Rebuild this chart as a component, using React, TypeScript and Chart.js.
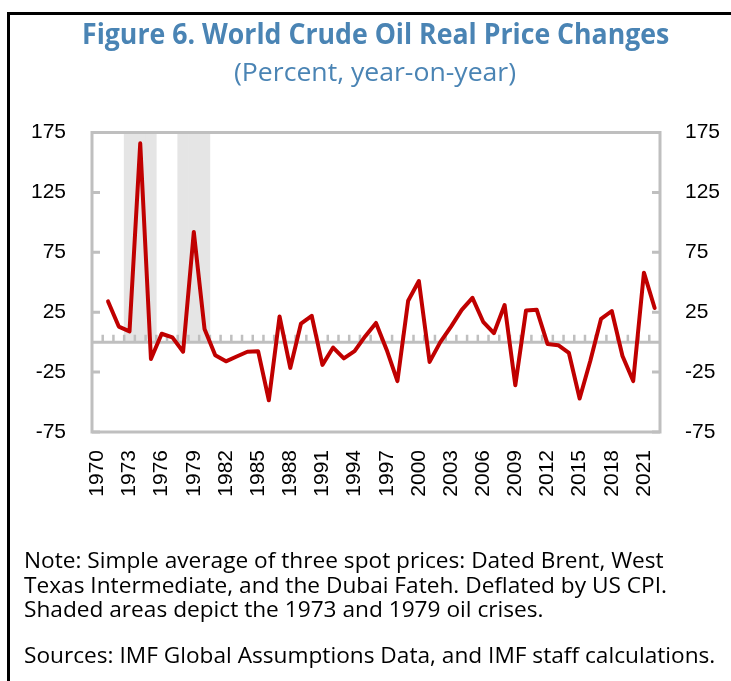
import React, { useEffect, useLayoutEffect, useRef, useState } from 'react';
import { Chart, registerables } from 'chart.js';

Chart.register(...registerables);

// ---------- data ----------
const years: string[] = [
  '1970', '1971', '1972', '1973', '1974', '1975', '1976', '1977', '1978', '1979',
  '1980', '1981', '1982', '1983', '1984', '1985', '1986', '1987', '1988', '1989',
  '1990', '1991', '1992', '1993', '1994', '1995', '1996', '1997', '1998', '1999',
  '2000', '2001', '2002', '2003', '2004', '2005', '2006', '2007', '2008', '2009',
  '2010', '2011', '2012', '2013', '2014', '2015', '2016', '2017', '2018', '2019',
  '2020', '2021', '2022',
];

const priceChange: (number | null)[] = [
  null, 34, 13, 9, 166, -14, 7, 4, -8, 92,
  11, -11, -16, -12, -8, -7.5, -48.5, 21.5, -21.5, 15.5,
  22, -19, -4.5, -13.5, -7.5, 5, 16, -6.5, -32.5, 34.5,
  51, -16.5, 0, 13, 27, 37, 17, 7.5, 31, -36,
  26.5, 27, -1.5, -2.5, -9, -47, -15.5, 19.5, 26, -11.5,
  -32.5, 58, 28.5,
];

const crisisYears: string[] = ['1973', '1974', '1975', '1978', '1979', '1980'];
const shadeHeight = 175;

const yTickValues: number[] = [-75, -25, 25, 75, 125, 175];
const labelEvery = 3;

const titleText = 'Figure 6. World Crude Oil Real Price Changes';
const subtitleText = '(Percent, year-on-year)';
const noteLines: string[] = [
  'Note: Simple average of three spot prices: Dated Brent, West',
  'Texas Intermediate, and the Dubai Fateh. Deflated by US CPI.',
  'Shaded areas depict the 1973 and 1979 oil crises.',
];
const sourceText = 'Sources: IMF Global Assumptions Data, and IMF staff calculations.';

// ---------- styles ----------
const W = 731;
const H = 681;
const PLOT_LEFT = 92;
const PLOT_RIGHT = 660;
const PLOT_TOP = 132.5;
const PLOT_BOTTOM = 432;
const AXIS_GRAY = '#bfbfbf';
const LINE_RED = '#c00000';
const SHADE = '#e5e5e5';
const TITLE_BLUE = '#4a84b4';
const TICK_FONT = { family: "'Liberation Sans', Arial, sans-serif", size: 21 };
const TEXT_FONT = "'Open Sans', 'Noto Sans', sans-serif";

const decorPlugin = {
  id: 'decor',
  afterDatasetDraw(chart: any, args: any) {
    if (args.index !== 1) return;
    const { ctx, chartArea: a, scales } = chart;
    const x = scales.x;
    const y = scales.y;
    ctx.save();
    ctx.strokeStyle = AXIS_GRAY;
    ctx.lineCap = 'butt';
    const y0 = y.getPixelForValue(0);
    // zero line
    ctx.lineWidth = 3;
    ctx.beginPath();
    ctx.moveTo(a.left, y0);
    ctx.lineTo(a.right, y0);
    ctx.stroke();
    // category ticks on zero line
    ctx.lineWidth = 2.5;
    ctx.beginPath();
    for (let i = 1; i < years.length; i++) {
      const xp = (x.getPixelForValue(i - 1) + x.getPixelForValue(i)) / 2;
      ctx.moveTo(xp, y0);
      ctx.lineTo(xp, y0 - 7.5);
    }
    ctx.stroke();
    // inward y ticks
    ctx.lineWidth = 3;
    ctx.beginPath();
    for (const v of yTickValues) {
      const yp = y.getPixelForValue(v);
      ctx.moveTo(a.left, yp);
      ctx.lineTo(a.left + 8, yp);
      ctx.moveTo(a.right, yp);
      ctx.lineTo(a.right - 8, yp);
    }
    ctx.stroke();
    // plot border
    ctx.strokeRect(a.left, a.top, a.right - a.left, a.bottom - a.top);
    ctx.restore();
  },
};

function ChartCanvas() {
  const ref = useRef<HTMLCanvasElement>(null);
  useEffect(() => {
    if (!ref.current) return;
    const shadeData = years.map((yr) => (crisisYears.includes(yr) ? shadeHeight : null));
    const yScale = (position: 'left' | 'right', padding: number, width: number) => ({
      position,
      min: yTickValues[0],
      max: yTickValues[yTickValues.length - 1],
      grid: { display: false, drawTicks: false },
      border: { display: false },
      afterBuildTicks: (s: any) => {
        s.ticks = yTickValues.map((v) => ({ value: v }));
      },
      afterFit: (s: any) => {
        s.width = width;
      },
      ticks: {
        color: '#000',
        font: TICK_FONT,
        padding,
        callback: (v: any) => String(v),
      },
    });
    const chart = new Chart(ref.current, {
      type: 'line',
      data: {
        labels: years,
        datasets: [
          {
            type: 'line',
            data: priceChange,
            borderColor: LINE_RED,
            borderWidth: 4,
            pointRadius: 0,
            tension: 0,
            borderJoinStyle: 'round',
            borderCapStyle: 'round',
            spanGaps: false,
            yAxisID: 'y',
          } as any,
          {
            type: 'bar',
            data: shadeData,
            backgroundColor: SHADE,
            borderWidth: 0,
            barPercentage: 1,
            categoryPercentage: 1,
            yAxisID: 'y',
          } as any,
        ],
      },
      options: {
        animation: false,
        responsive: true,
        maintainAspectRatio: false,
        events: [],
        layout: { padding: { left: 0, right: 0, top: PLOT_TOP, bottom: 0 } },
        plugins: {
          legend: { display: false },
          tooltip: { enabled: false },
          title: { display: false },
        },
        scales: {
          x: {
            type: 'category',
            offset: true,
            grid: { display: false, drawTicks: false },
            border: { display: false },
            afterFit: (s: any) => {
              s.height = H - PLOT_BOTTOM;
            },
            ticks: {
              autoSkip: false,
              minRotation: 90,
              maxRotation: 90,
              padding: 18,
              color: '#000',
              font: TICK_FONT,
              callback: (_v: any, i: number) => (i % labelEvery === 0 ? years[i] : ''),
            },
          },
          y: yScale('left', 26, PLOT_LEFT) as any,
          y2: yScale('right', 25, W - PLOT_RIGHT) as any,
        },
      },
      plugins: [decorPlugin],
    });
    return () => chart.destroy();
  }, []);
  return (
    <div style={{ position: 'absolute', left: 0, top: 0, width: W, height: H }}>
      <canvas ref={ref} />
    </div>
  );
}

function FitText(props: {
  text: string;
  left?: number;
  center?: number;
  top: number;
  width: number;
  size: number;
  weight: number;
  color: string;
}) {
  const ref = useRef<HTMLSpanElement>(null);
  const [scale, setScale] = useState(1);
  useLayoutEffect(() => {
    const measure = () => {
      const el = ref.current;
      if (!el) return;
      const w = el.offsetWidth;
      if (w) setScale(props.width / w);
    };
    measure();
    (document as any).fonts?.ready.then(measure);
  }, [props.text, props.width]);
  const left = props.center !== undefined ? props.center - props.width / 2 : props.left;
  return (
    <span
      ref={ref}
      style={{
        position: 'absolute',
        left,
        top: props.top,
        whiteSpace: 'nowrap',
        fontFamily: TEXT_FONT,
        fontSize: props.size,
        fontWeight: props.weight,
        color: props.color,
        lineHeight: 1,
        transform: `scaleX(${scale})`,
        transformOrigin: 'left top',
      }}
    >
      {props.text}
    </span>
  );
}

function Notes() {
  const ref = useRef<HTMLSpanElement>(null);
  const [scale, setScale] = useState(1);
  const target = 640;
  useLayoutEffect(() => {
    const measure = () => {
      const el = ref.current;
      if (!el) return;
      const w = el.offsetWidth;
      if (w) setScale(target / w);
    };
    measure();
    (document as any).fonts?.ready.then(measure);
  }, []);
  const tops = [550, 574.5, 599, 645];
  const lines = [...noteLines, sourceText];
  return (
    <>
      {lines.map((t, i) => (
        <span
          key={i}
          ref={i === 0 ? ref : undefined}
          style={{
            position: 'absolute',
            left: 24,
            top: tops[i],
            whiteSpace: 'nowrap',
            fontFamily: TEXT_FONT,
            fontSize: 21,
            color: '#000',
            lineHeight: 1,
            transform: `scaleX(${scale})`,
            transformOrigin: 'left top',
          }}
        >
          {t}
        </span>
      ))}
    </>
  );
}

export default function App() {
  return (
    <div style={{ position: 'absolute', left: 0, top: 0, width: W, height: H, overflow: 'hidden', background: '#fff' }}>
      <ChartCanvas />
      <div
        style={{
          position: 'absolute',
          left: 7,
          top: 12,
          width: W,
          height: H,
          borderLeft: '3px solid #000',
          borderTop: '3px solid #000',
          pointerEvents: 'none',
        }}
      />
      <FitText text={titleText} center={375} top={18} width={587} size={29} weight={700} color={TITLE_BLUE} />
      <FitText text={subtitleText} center={375} top={59} width={282} size={25} weight={400} color={TITLE_BLUE} />
      <Notes />
    </div>
  );
}
